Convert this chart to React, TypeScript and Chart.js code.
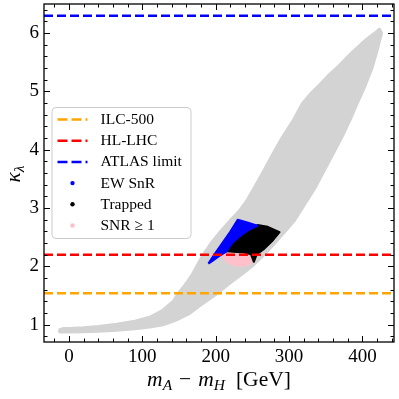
import React, { useEffect, useRef } from "react";
import { Chart, registerables } from "chart.js";

Chart.register(...registerables);

// ---------- axes ----------
const X_MIN = -34;
const X_MAX = 443;
const Y_MIN = 0.705;
const Y_MAX = 6.5;
const xMajorTicks = [0, 100, 200, 300, 400];
const yMajorTicks = [1, 2, 3, 4, 5, 6];

// ---------- horizontal limits ----------
const limitLabels = ["ILC-500", "HL-LHC", "ATLAS limit"];
const limitValues = [1.54, 2.2, 6.3];
const limitColors = ["#FFA500", "#FF0000", "#0000FF"];

// ---------- grey parameter-scan cloud (outline) ----------
const cloudUpperX = [-14, -8, 5, 20, 40, 65, 90, 110, 128, 142, 148, 155, 162, 168, 174, 183, 195, 208, 220, 232, 242, 253, 266, 278, 291, 306, 318, 330, 342, 355, 368, 385, 398, 410, 418, 423];
const cloudUpperY = [0.91, 0.935, 0.94, 0.95, 0.97, 1.01, 1.06, 1.13, 1.25, 1.40, 1.52, 1.63, 1.75, 1.86, 2.0, 2.20, 2.42, 2.62, 2.79, 2.95, 3.12, 3.36, 3.65, 3.93, 4.22, 4.51, 4.79, 4.97, 5.12, 5.29, 5.44, 5.66, 5.81, 5.94, 6.01, 6.07];
const cloudLowerX = [426, 421, 413, 403, 393, 383, 372, 360, 348, 336, 322, 308, 296, 286, 276, 264, 251, 235, 219, 200, 179, 165, 146, 128, 110, 90, 65, 40, 19, 0, -12];
const cloudLowerY = [6.0, 5.75, 5.4, 5.08, 4.8, 4.51, 4.22, 3.93, 3.65, 3.36, 3.08, 2.80, 2.62, 2.48, 2.34, 2.18, 2.02, 1.86, 1.71, 1.52, 1.335, 1.20, 1.08, 1.00, 0.96, 0.93, 0.905, 0.89, 0.88, 0.875, 0.875];

// ---------- highlighted regions ----------
const regionLabels = ["EW SnR", "Trapped", "SNR \u2265 1"];
const regionColors = ["#0000FF", "#000000", "#FFC0CB"];

const ewX = [190, 200, 210, 220, 230, 242, 257, 244, 232, 222, 215, 205, 196];
const ewY = [2.05, 2.24, 2.42, 2.60, 2.80, 2.76, 2.70, 2.62, 2.51, 2.40, 2.26, 2.18, 2.10];

const trappedX = [215, 222, 232, 244, 257, 271, 287, 278, 265, 256, 252, 248, 240, 228, 215];
const trappedY = [2.26, 2.40, 2.51, 2.62, 2.71, 2.68, 2.59, 2.45, 2.29, 2.21, 2.08, 2.21, 2.24, 2.25, 2.26];

const snrX = [209, 212, 218, 226, 237, 246, 251, 252, 240, 225, 212];
const snrY = [2.22, 2.12, 2.06, 2.02, 2.01, 2.04, 2.10, 2.22, 2.26, 2.27, 2.26];

function toPoints(xs: number[], ys: number[]) {
  return xs.map((x, i) => ({ x, y: ys[i] }));
}
function closed(pts: { x: number; y: number }[]) {
  return [...pts, pts[0]];
}

const FONT = "'Liberation Serif', 'Times New Roman', serif";

const framePlugin = {
  id: "frameTicks",
  afterDraw(chart: any) {
    const { ctx, chartArea: a, scales } = chart;
    const xs = scales.x;
    const ys = scales.y;
    ctx.save();
    ctx.strokeStyle = "#000";
    ctx.lineWidth = 1;
    const major = 6;
    const minor = 3.5;
    for (let v = -20; v <= 440; v += 20) {
      const px = Math.round(xs.getPixelForValue(v)) + 0.5;
      const len = v % 100 === 0 ? major : minor;
      ctx.beginPath();
      ctx.moveTo(px, a.bottom);
      ctx.lineTo(px, a.bottom - len);
      ctx.moveTo(px, a.top);
      ctx.lineTo(px, a.top + len);
      ctx.stroke();
    }
    for (let k = 4; k <= 32; k++) {
      const v = k / 5;
      const py = Math.round(ys.getPixelForValue(v)) + 0.5;
      const len = k % 5 === 0 ? major : minor;
      ctx.beginPath();
      ctx.moveTo(a.left, py);
      ctx.lineTo(a.left + len, py);
      ctx.moveTo(a.right, py);
      ctx.lineTo(a.right - len, py);
      ctx.stroke();
    }
    ctx.lineWidth = 1.3;
    ctx.strokeRect(a.left, a.top, a.right - a.left, a.bottom - a.top);
    ctx.restore();
  },
};

const legendPlugin = {
  id: "customLegend",
  afterDatasetsDraw(chart: any) {
    const { ctx, chartArea: a } = chart;
    const x0 = a.left + 8;
    const y0 = a.top + 103.5;
    const w = 139;
    const h = 131;
    ctx.save();
    ctx.beginPath();
    const r = 4;
    ctx.moveTo(x0 + r, y0);
    ctx.lineTo(x0 + w - r, y0);
    ctx.arcTo(x0 + w, y0, x0 + w, y0 + r, r);
    ctx.lineTo(x0 + w, y0 + h - r);
    ctx.arcTo(x0 + w, y0 + h, x0 + w - r, y0 + h, r);
    ctx.lineTo(x0 + r, y0 + h);
    ctx.arcTo(x0, y0 + h, x0, y0 + h - r, r);
    ctx.lineTo(x0, y0 + r);
    ctx.arcTo(x0, y0, x0 + r, y0, r);
    ctx.closePath();
    ctx.fillStyle = "rgba(255,255,255,0.8)";
    ctx.fill();
    ctx.strokeStyle = "#cccccc";
    ctx.lineWidth = 1;
    ctx.stroke();

    ctx.font = `15.5px ${FONT}`;
    ctx.textBaseline = "middle";
    ctx.textAlign = "left";
    const rowH = 21.2;
    const entries = [
      ...limitLabels.map((l, i) => ({ label: l, color: limitColors[i], kind: "line" })),
      ...regionLabels.map((l, i) => ({ label: l, color: regionColors[i], kind: "dot" })),
    ];
    entries.forEach((e, i) => {
      const cy = y0 + 12 + i * rowH;
      if (e.kind === "line") {
        ctx.save();
        ctx.strokeStyle = e.color;
        ctx.lineWidth = 2.5;
        ctx.setLineDash([10, 4]);
        ctx.beginPath();
        ctx.moveTo(x0 + 5.5, cy);
        ctx.lineTo(x0 + 35.5, cy);
        ctx.stroke();
        ctx.restore();
      } else {
        ctx.fillStyle = e.color;
        ctx.beginPath();
        ctx.arc(x0 + 20.5, cy, 2.2, 0, Math.PI * 2);
        ctx.fill();
      }
      ctx.fillStyle = "#000";
      ctx.fillText(e.label, x0 + 48.5, cy + 0.5);
    });
    ctx.restore();
  },
};

const titlePlugin = {
  id: "axisTitles",
  afterDraw(chart: any) {
    const { ctx, chartArea: a } = chart;
    ctx.save();
    ctx.fillStyle = "#000";
    ctx.textBaseline = "alphabetic";
    ctx.textAlign = "left";
    const big = 21.5;
    const small = 15.5;
    const segs = [
      { t: "m", it: true, s: big, dy: 0, gap: 0 },
      { t: "A", it: true, s: small, dy: 4, gap: 7 },
      { t: "\u2212", it: false, s: big, dy: 0, gap: 7 },
      { t: "m", it: true, s: big, dy: 0, gap: 0 },
      { t: "H", it: true, s: small, dy: 4, gap: 11 },
      { t: "[GeV]", it: false, s: big, dy: 0, gap: 0 },
    ];
    let total = 0;
    const widths = segs.map((sg) => {
      ctx.font = `${sg.it ? "italic " : ""}${sg.s}px ${FONT}`;
      const wd = ctx.measureText(sg.t).width + sg.gap;
      total += wd;
      return wd;
    });
    let x = (a.left + a.right) / 2 - total / 2;
    const base = 386;
    segs.forEach((sg, i) => {
      ctx.font = `${sg.it ? "italic " : ""}${sg.s}px ${FONT}`;
      ctx.fillText(sg.t, x, base + sg.dy);
      x += widths[i];
    });

    ctx.translate(20, (a.top + a.bottom) / 2 + 1);
    ctx.rotate(-Math.PI / 2);
    ctx.font = `italic ${big}px ${FONT}`;
    const kw = ctx.measureText("\u03BA").width;
    ctx.font = `italic ${small}px ${FONT}`;
    const lw = ctx.measureText("\u03BB").width;
    const start = -(kw + lw) / 2;
    ctx.font = `italic ${big}px ${FONT}`;
    ctx.fillText("\u03BA", start, 0);
    ctx.font = `italic ${small}px ${FONT}`;
    ctx.fillText("\u03BB", start + kw, 3.5);
    ctx.restore();
  },
};

function zeroPad(s: any) {
  s.paddingTop = 0;
  s.paddingBottom = 0;
  s.paddingLeft = 0;
  s.paddingRight = 0;
}

export default function App() {
  const ref = useRef<HTMLCanvasElement>(null);
  useEffect(() => {
    document.body.style.margin = "0";
    document.body.style.overflow = "hidden";
    const canvas = ref.current!;
    const cloud = closed([
      ...toPoints(cloudUpperX, cloudUpperY),
      ...toPoints(cloudLowerX, cloudLowerY),
    ]);
    const regionData = [toPoints(ewX, ewY), toPoints(trappedX, trappedY), toPoints(snrX, snrY)];

    const datasets: any[] = [];
    limitLabels.forEach((l, i) => {
      datasets.push({
        label: l,
        data: [
          { x: X_MIN, y: limitValues[i] },
          { x: X_MAX, y: limitValues[i] },
        ],
        borderColor: limitColors[i],
        backgroundColor: limitColors[i],
        borderWidth: 2.5,
        borderDash: [9, 4],
        borderCapStyle: "butt",
        pointRadius: 0,
        fill: false,
        order: 0,
      });
    });
    regionLabels.forEach((l, i) => {
      datasets.push({
        label: l,
        data: closed(regionData[i]),
        borderColor: regionColors[i],
        backgroundColor: regionColors[i],
        borderWidth: 2,
        borderJoinStyle: "round",
        pointRadius: 0,
        fill: "shape",
        order: 1 + i,
      });
    });
    datasets.push({
      label: "scan",
      data: cloud,
      borderColor: "#D3D3D3",
      backgroundColor: "#D3D3D3",
      borderWidth: 3,
      borderJoinStyle: "round",
      pointRadius: 0,
      fill: "shape",
      order: 10,
    });

    const chart = new Chart(canvas, {
      type: "line",
      data: { datasets },
      options: {
        responsive: false,
        animation: false,
        devicePixelRatio: 1,
        layout: { padding: { top: 4, right: 5, left: 0, bottom: 0 } },
        plugins: {
          legend: { display: false },
          tooltip: { enabled: false },
        },
        elements: { line: { tension: 0 } },
        scales: {
          x: {
            type: "linear",
            min: X_MIN,
            max: X_MAX,
            afterFit: (s: any) => {
              s.height = 57;
              zeroPad(s);
            },
            afterBuildTicks: (s: any) => {
              s.ticks = xMajorTicks.map((v) => ({ value: v }));
            },
            grid: { display: false, drawTicks: false },
            border: { display: false },
            ticks: {
              font: { family: FONT, size: 19 },
              color: "#000",
              padding: 4,
              maxRotation: 0,
              autoSkip: false,
            },
          },
          y: {
            type: "linear",
            min: Y_MIN,
            max: Y_MAX,
            afterFit: (s: any) => {
              s.width = 44;
              zeroPad(s);
            },
            afterBuildTicks: (s: any) => {
              s.ticks = yMajorTicks.map((v) => ({ value: v }));
            },
            grid: { display: false, drawTicks: false },
            border: { display: false },
            ticks: {
              font: { family: FONT, size: 19 },
              color: "#000",
              padding: 5,
              autoSkip: false,
            },
          },
        },
      },
      plugins: [legendPlugin, framePlugin, titlePlugin],
    });
    return () => chart.destroy();
  }, []);
  return <canvas ref={ref} width={399} height={399} style={{ display: "block" }} />;
}
